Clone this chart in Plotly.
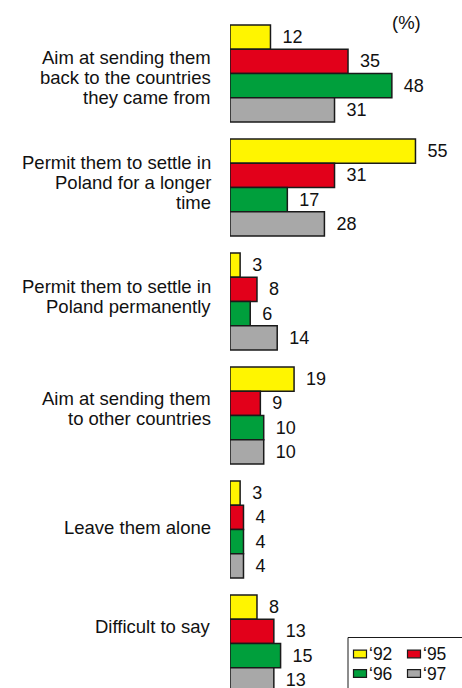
import plotly.graph_objects as go

# Survey answers: what should be done with refugees in Poland (percent)
categories = [
    "Aim at sending them<br>back to the countries<br>they came from",
    "Permit them to settle in<br>Poland for a longer<br>time",
    "Permit them to settle in<br>Poland permanently",
    "Aim at sending them<br>to other countries",
    "Leave them alone",
    "Difficult to say",
]
years = ["‘92", "‘95", "‘96", "‘97"]
values_92 = [12, 55, 3, 19, 3, 8]
values_95 = [35, 31, 8, 9, 4, 13]
values_96 = [48, 17, 6, 10, 4, 15]
values_97 = [31, 28, 14, 10, 4, 13]

series = [values_92, values_95, values_96, values_97]
colors = ["#FFF500", "#E2001A", "#009F3C", "#A8A8A8"]

W, H = 462, 688
ML = 230  # left margin holding the category labels
FONT = "Liberation Sans, Arial, Helvetica, sans-serif"
LABEL_SIZE = 18.5
LINE_GAP = 20  # px between label lines

fig = go.Figure()
for name, vals, col in zip(years, series, colors):
    fig.add_trace(go.Bar(
        y=categories,
        x=vals,
        name=name,
        orientation="h",
        marker=dict(color=col, line=dict(color="#1a1a1a", width=1.5)),
        text=vals,
        texttemplate="\u2002%{x}",
        textposition="outside",
        textfont=dict(family=FONT, size=18, color="#111"),
        cliponaxis=False,
        constraintext="none",
        showlegend=False,
    ))

# Category labels to the left of each group, one annotation per text line
label_shift = [-4, 5, 5, 7, 2, 17]
annotations = []
for cat, dy in zip(categories, label_shift):
    lines = cat.split("<br>")
    n = len(lines)
    for k, line in enumerate(lines):
        annotations.append(dict(
            x=0, xref="paper", y=cat, yref="y",
            xanchor="right", yanchor="middle", align="right",
            xshift=-17, yshift=dy + ((n - 1) / 2 - k) * LINE_GAP, showarrow=False,
            text=line, font=dict(family=FONT, size=LABEL_SIZE, color="#111"),
        ))


def px_x(p):
    return (p - ML) / (W - ML)


def px_y(p):
    return 1 - p / H


annotations.append(dict(
    x=px_x(406), y=px_y(22), xref="paper", yref="paper",
    xanchor="center", yanchor="middle",
    text="(%)", showarrow=False, font=dict(family=FONT, size=18.5, color="#111"),
))

# Legend: bordered box, two rows of swatch + year
shapes = [dict(type="rect", xref="paper", yref="paper",
               x0=px_x(348), x1=px_x(462.5), y0=px_y(700), y1=px_y(637.5),
               line=dict(color="#1a1a1a", width=1), fillcolor="white", layer="above")]
legend_slots = [(353.5, 654), (407.5, 654), (353.5, 673.5), (407.5, 673.5)]
for (lx, ly), name, col in zip(legend_slots, years, colors):
    shapes.append(dict(type="rect", xref="paper", yref="paper",
                       x0=px_x(lx), x1=px_x(lx + 13), y0=px_y(ly + 3.8), y1=px_y(ly - 3.8),
                       line=dict(color="#1a1a1a", width=1.2), fillcolor=col, layer="above"))
    annotations.append(dict(
        x=px_x(lx + 13), xref="paper", y=px_y(ly), yref="paper",
        xanchor="left", yanchor="middle", showarrow=False,
        text=name, font=dict(family=FONT, size=17.5, color="#111"),
    ))

fig.update_layout(
    width=W, height=H,
    margin=dict(l=ML, r=0, t=0, b=0),
    paper_bgcolor="white", plot_bgcolor="white",
    barmode="group", bargap=0.15, bargroupgap=0,
    xaxis=dict(range=[0, 68.8], visible=False, fixedrange=True),
    yaxis=dict(type="category", categoryarray=categories, categoryorder="array",
               range=[5.39, -0.645], visible=False, fixedrange=True),
    annotations=annotations,
    shapes=shapes,
    showlegend=False,
)

fig.write_html("out.html")
